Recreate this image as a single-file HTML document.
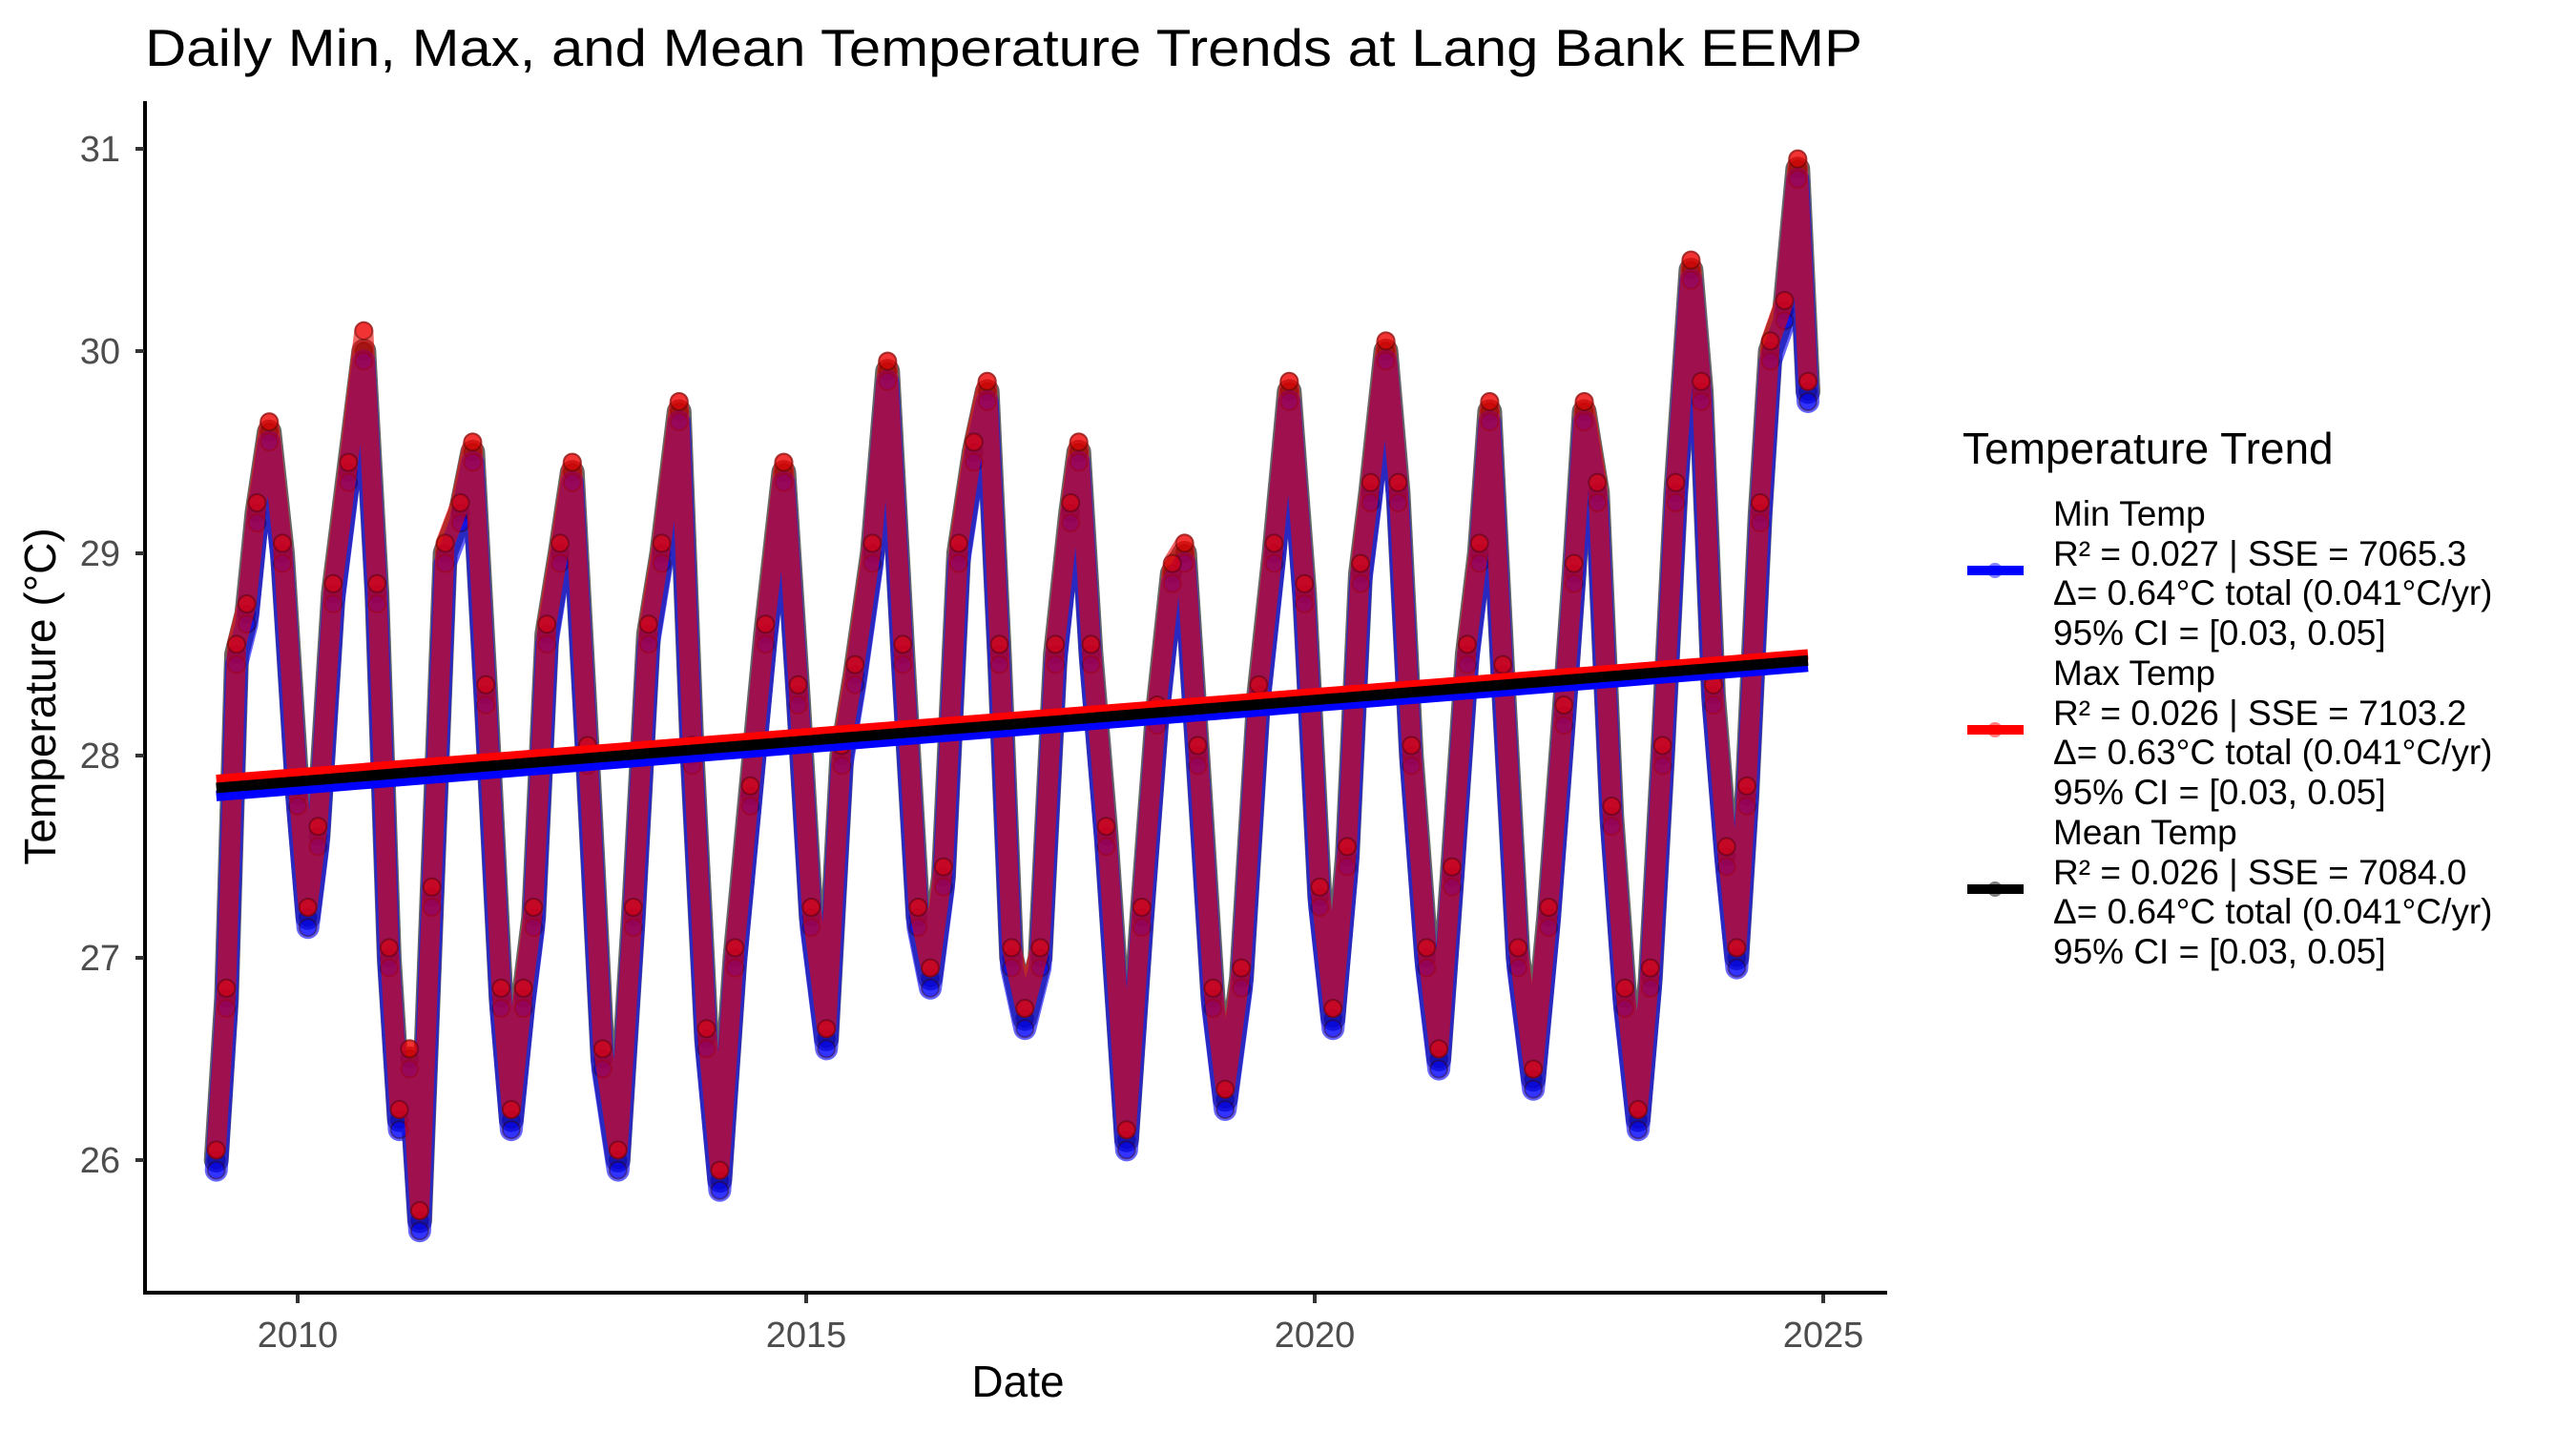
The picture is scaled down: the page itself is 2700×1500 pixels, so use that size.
<!DOCTYPE html>
<html><head><meta charset="utf-8"><style>
html,body{margin:0;padding:0;background:#fff;}
svg{display:block;font-family:"Liberation Sans",Arial,sans-serif;}
</style></head><body>
<svg id="chart" width="2700" height="1500" viewBox="0 0 2700 1500" xmlns="http://www.w3.org/2000/svg">
<rect width="2700" height="1500" fill="#fff"/>
<text x="152" y="69" font-size="55" textLength="1800" lengthAdjust="spacingAndGlyphs" fill="#000">Daily Min, Max, and Mean Temperature Trends at Lang Bank EEMP</text>
<g id="plot"></g>
<g id="axes"></g>
<text x="1067" y="1464" font-size="46" text-anchor="middle" fill="#000">Date</text>
<text transform="translate(58,730) rotate(-90)" font-size="46" text-anchor="middle" fill="#000">Temperature (°C)</text>
<g id="legend">
<text x="2057" y="486" font-size="46" fill="#000">Temperature Trend</text>
<g>
<line x1="2062" y1="598" x2="2121" y2="598" stroke="#0000ff" stroke-width="10"/>
<circle cx="2091" cy="598" r="8" fill="#0000ff" fill-opacity="0.5"/>
<text x="2152" y="551" font-size="37">Min Temp</text>
<text x="2152" y="593" font-size="37">R² = 0.027 | SSE = 7065.3</text>
<text x="2152" y="634" font-size="37">Δ= 0.64°C total (0.041°C/yr)</text>
<text x="2152" y="676" font-size="37">95% CI = [0.03, 0.05]</text>
</g>
<g>
<line x1="2062" y1="765" x2="2121" y2="765" stroke="#ff0000" stroke-width="10"/>
<circle cx="2091" cy="765" r="8" fill="#ff0000" fill-opacity="0.5"/>
<text x="2152" y="718" font-size="37">Max Temp</text>
<text x="2152" y="760" font-size="37">R² = 0.026 | SSE = 7103.2</text>
<text x="2152" y="801" font-size="37">Δ= 0.63°C total (0.041°C/yr)</text>
<text x="2152" y="843" font-size="37">95% CI = [0.03, 0.05]</text>
</g>
<g>
<line x1="2062" y1="932" x2="2121" y2="932" stroke="#000" stroke-width="10"/>
<circle cx="2091" cy="932" r="8" fill="#000" fill-opacity="0.5"/>
<text x="2152" y="885" font-size="37">Mean Temp</text>
<text x="2152" y="927" font-size="37">R² = 0.026 | SSE = 7084.0</text>
<text x="2152" y="968" font-size="37">Δ= 0.64°C total (0.041°C/yr)</text>
<text x="2152" y="1010" font-size="37">95% CI = [0.03, 0.05]</text>
</g>
</g>
</svg>
<script>
const dates = [2009.20,2009.30,2009.40,2009.50,2009.60,2009.72,2009.85,2010.00,2010.10,2010.20,2010.35,2010.50,2010.65,2010.78,2010.90,2011.00,2011.10,2011.20,2011.32,2011.45,2011.60,2011.72,2011.85,2012.00,2012.10,2012.22,2012.32,2012.45,2012.58,2012.70,2012.85,2013.00,2013.15,2013.30,2013.45,2013.58,2013.75,2013.88,2014.02,2014.15,2014.30,2014.45,2014.60,2014.78,2014.92,2015.05,2015.20,2015.35,2015.48,2015.65,2015.80,2015.95,2016.10,2016.22,2016.35,2016.50,2016.65,2016.78,2016.90,2017.02,2017.15,2017.30,2017.45,2017.60,2017.68,2017.80,2017.95,2018.15,2018.30,2018.45,2018.60,2018.72,2018.85,2019.00,2019.12,2019.28,2019.45,2019.60,2019.75,2019.90,2020.05,2020.18,2020.32,2020.45,2020.55,2020.70,2020.82,2020.95,2021.10,2021.22,2021.35,2021.50,2021.62,2021.72,2021.85,2022.00,2022.15,2022.30,2022.45,2022.55,2022.65,2022.78,2022.92,2023.05,2023.18,2023.30,2023.42,2023.55,2023.70,2023.80,2023.92,2024.05,2024.15,2024.25,2024.38,2024.48,2024.62,2024.75,2024.85];
const meanTemp = [26.0,26.8,28.5,28.7,29.2,29.6,29.0,27.8,27.2,27.6,28.8,29.4,30.0,28.8,27.0,26.2,26.5,25.7,27.3,29.0,29.2,29.5,28.3,26.8,26.2,26.8,27.2,28.6,29.0,29.4,28.0,26.5,26.0,27.2,28.6,29.0,29.7,28.0,26.6,25.9,27.0,27.8,28.6,29.4,28.3,27.2,26.6,28.0,28.4,29.0,29.9,28.5,27.2,26.9,27.4,29.0,29.5,29.8,28.5,27.0,26.7,27.0,28.5,29.2,29.5,28.5,27.6,26.1,27.2,28.2,28.9,29.0,28.0,26.8,26.3,26.9,28.3,29.0,29.8,28.8,27.3,26.7,27.5,28.9,29.3,30.0,29.3,28.0,27.0,26.5,27.4,28.5,29.0,29.7,28.4,27.0,26.4,27.2,28.2,28.9,29.7,29.3,27.7,26.8,26.2,26.9,28.0,29.3,30.4,29.8,28.3,27.5,27.0,27.8,29.2,30.0,30.2,30.9,29.8];
const minTemp = [25.95,26.75,28.45,28.65,29.15,29.55,28.95,27.75,27.15,27.55,28.75,29.35,29.95,28.75,26.95,26.15,26.45,25.65,27.25,28.95,29.15,29.45,28.25,26.75,26.15,26.75,27.15,28.55,28.95,29.35,27.95,26.45,25.95,27.15,28.55,28.95,29.65,27.95,26.55,25.85,26.95,27.75,28.55,29.35,28.25,27.15,26.55,27.95,28.35,28.95,29.85,28.45,27.15,26.85,27.35,28.95,29.45,29.75,28.45,26.95,26.65,26.95,28.45,29.15,29.45,28.45,27.55,26.05,27.15,28.15,28.85,28.95,27.95,26.75,26.25,26.85,28.25,28.95,29.75,28.75,27.25,26.65,27.45,28.85,29.25,29.95,29.25,27.95,26.95,26.45,27.35,28.45,28.95,29.65,28.35,26.95,26.35,27.15,28.15,28.85,29.65,29.25,27.65,26.75,26.15,26.85,27.95,29.25,30.35,29.75,28.25,27.45,26.95,27.75,29.15,29.95,30.15,30.85,29.75];
const maxTemp = [26.05,26.85,28.55,28.75,29.25,29.65,29.05,27.85,27.25,27.65,28.85,29.45,30.1,28.85,27.05,26.25,26.55,25.75,27.35,29.05,29.25,29.55,28.35,26.85,26.25,26.85,27.25,28.65,29.05,29.45,28.05,26.55,26.05,27.25,28.65,29.05,29.75,28.05,26.65,25.95,27.05,27.85,28.65,29.45,28.35,27.25,26.65,28.05,28.45,29.05,29.95,28.55,27.25,26.95,27.45,29.05,29.55,29.85,28.55,27.05,26.75,27.05,28.55,29.25,29.55,28.55,27.65,26.15,27.25,28.25,28.95,29.05,28.05,26.85,26.35,26.95,28.35,29.05,29.85,28.85,27.35,26.75,27.55,28.95,29.35,30.05,29.35,28.05,27.05,26.55,27.45,28.55,29.05,29.75,28.45,27.05,26.45,27.25,28.25,28.95,29.75,29.35,27.75,26.85,26.25,26.95,28.05,29.35,30.45,29.85,28.35,27.55,27.05,27.85,29.25,30.05,30.25,30.95,29.85];
const trendDates = [2009.20, 2024.85];
const trendMin = [27.80, 28.44];
const trendMax = [27.88, 28.50];
const trendMean = [27.84, 28.47];
const xTicks = [2010, 2015, 2020, 2025];
const yTicks = [26, 27, 28, 29, 30, 31];

const NS = 'http://www.w3.org/2000/svg';
const X0 = 312, PXY = 106.6, Y0 = 1216, PXT = 212;
function xs(d){ return X0 + (d - 2010) * PXY; }
function ys(t){ return Y0 - (t - 26) * PXT; }
function mk(tag, attrs, parent){ const e = document.createElementNS(NS, tag); for (const k in attrs) e.setAttribute(k, attrs[k]); parent.appendChild(e); return e; }

const plot = document.getElementById('plot');
const series = [
  {vals: meanTemp, color: '#000000', name: 'mean', w: 26},
  {vals: minTemp, color: '#0000ff', name: 'min', w: 24},
  {vals: maxTemp, color: '#ee0000', name: 'max', w: 20}
];
series.forEach(s => {
  const g = mk('g', {}, plot);
  
  
  let d = '';
  dates.forEach((dt, i) => { d += (i ? 'L' : 'M') + xs(dt).toFixed(1) + ',' + ys(s.vals[i]).toFixed(1); });
  const p = mk('path', {d: d, fill: 'none', stroke: s.color, 'stroke-opacity': 0.6, 'stroke-width': s.w, 'stroke-linejoin': 'round', 'stroke-linecap': 'round'}, g);
  
  
  dates.forEach((dt, i) => {
    const c = mk('circle', {cx: xs(dt).toFixed(1), cy: ys(s.vals[i]).toFixed(1), r: 9, fill: s.color, 'fill-opacity': 0.5, stroke: '#300', 'stroke-opacity': 0.4, 'stroke-width': 2}, g);
    
    
  });
});
[[trendMin, '#0000ff', 'min'], [trendMax, '#ff0000', 'max'], [trendMean, '#000000', 'mean']].forEach(t => {
  const l = mk('line', {x1: xs(trendDates[0]), y1: ys(t[0][0]), x2: xs(trendDates[1]), y2: ys(t[0][1]), stroke: t[1], 'stroke-width': 11}, plot);
  
  
});
const axes = document.getElementById('axes');
const ya = mk('line', {x1: 152, y1: 106, x2: 152, y2: 1357, stroke: '#000', 'stroke-width': 4}, axes);


const xa = mk('line', {x1: 150, y1: 1355, x2: 1978, y2: 1355, stroke: '#000', 'stroke-width': 4}, axes);


xTicks.forEach(v => {
  const tk = mk('line', {x1: xs(v), y1: 1357, x2: xs(v), y2: 1366, stroke: '#333', 'stroke-width': 4}, axes);
  
  
  const tx = mk('text', {x: xs(v), y: 1412, 'font-size': 38, 'text-anchor': 'middle', fill: '#4d4d4d'}, axes);
  tx.textContent = v;
  
  
});
yTicks.forEach(v => {
  const tk = mk('line', {x1: 142, y1: ys(v), x2: 151, y2: ys(v), stroke: '#333', 'stroke-width': 4}, axes);
  
  
  const tx = mk('text', {x: 126, y: ys(v) + 13, 'font-size': 38, 'text-anchor': 'end', fill: '#4d4d4d'}, axes);
  tx.textContent = v;
  
  
});
</script>
</body></html>
